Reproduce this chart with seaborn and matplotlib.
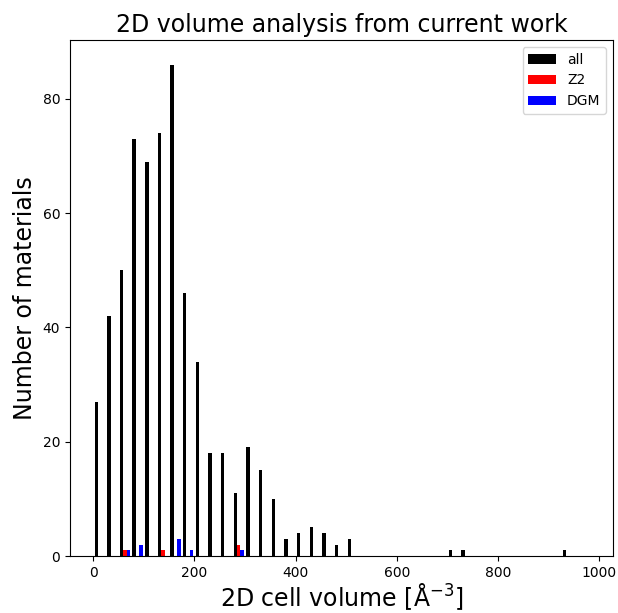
import numpy as np
import pandas as pd
import matplotlib
matplotlib.use("Agg")
import matplotlib.pyplot as plt
import seaborn as sns

# Histogram bin edges (2D cell volume)
bin_edges = list(range(0, 951, 25))

# Counts per bin
all_counts = [27, 42, 50, 73, 69, 74, 86, 46, 34, 18, 18, 11, 19, 15, 10, 3, 4, 5, 4, 2,
              3, 0, 0, 0, 0, 0, 0, 0, 1, 1, 0, 0, 0, 0, 0, 0, 0, 1]
z2_counts = [0, 0, 1, 0, 0, 1, 0, 0, 0, 0, 0, 2, 0, 0, 0, 0, 0, 0, 0, 0,
             0, 0, 0, 0, 0, 0, 0, 0, 0, 0, 0, 0, 0, 0, 0, 0, 0, 0]
dgm_counts = [0, 0, 1, 2, 0, 0, 3, 1, 0, 0, 0, 1, 0, 0, 0, 0, 0, 0, 0, 0,
              0, 0, 0, 0, 0, 0, 0, 0, 0, 0, 0, 0, 0, 0, 0, 0, 0, 0]

series_names = ["all", "Z2", "DGM"]
series_colors = {"all": "black", "Z2": "red", "DGM": "blue"}

edges_arr = np.asarray(bin_edges, dtype=float)
centers = (edges_arr[:-1] + edges_arr[1:]) / 2
frames = []
for name, counts in zip(series_names, [all_counts, z2_counts, dgm_counts]):
    frames.append(pd.DataFrame({"volume": centers, "count": counts, "set": name}))
df = pd.concat(frames, ignore_index=True)

fig = plt.figure(figsize=(6.18, 6.13), dpi=100)
ax = fig.add_axes([70 / 618, (613 - 556) / 613, (613 - 70) / 618, (556 - 40) / 613])

sns.histplot(data=df, x="volume", weights="count", hue="set", hue_order=series_names,
             palette=series_colors, bins=bin_edges, multiple="dodge", shrink=0.8,
             alpha=1, linewidth=0, ax=ax)

ax.set_xlim(-46, 1027)
ax.set_ylim(0, 90.3)
ax.set_xticks([0, 200, 400, 600, 800, 1000])
ax.set_yticks([0, 20, 40, 60, 80])
ax.set_title("2D volume analysis from current work", fontsize=17)
ax.set_xlabel("2D cell volume [Å$^{-3}$]", fontsize=17, labelpad=1)
ax.set_ylabel("Number of materials", fontsize=17)
sns.move_legend(ax, "upper right", title=None)

fig.savefig("out.png", dpi=100)
